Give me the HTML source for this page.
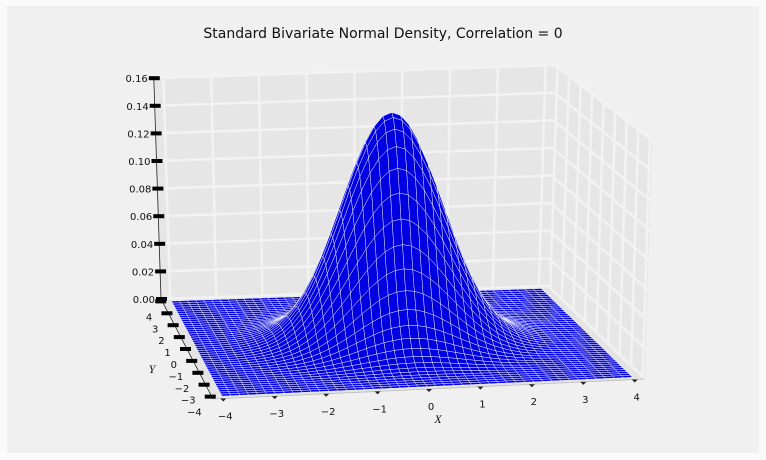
<!DOCTYPE html>
<html><head><meta charset="utf-8"><style>
body{margin:0;background:#fafafa;}
svg{display:block;font-family:"DejaVu Sans","Liberation Sans",sans-serif;}
</style></head><body>
<svg id="chart" width="766" height="460">
<rect x="7" y="6" width="752" height="447" fill="#f0f0f0"/>
<text x="383" y="38" text-anchor="middle" font-size="14" fill="#111">Standard Bivariate Normal Density, Correlation = 0</text>
<g id="walls"></g><g id="surface"></g><g id="axes"></g>
</svg>
<script>
const xTicks=[-4,-3,-2,-1,0,1,2,3,4];
const yTicks=[-4,-3,-2,-1,0,1,2,3,4];
const zTicks=[0,0.02,0.04,0.06,0.08,0.10,0.12,0.14,0.16];
const correlation=[0];
const gridRange=[-4,4];
const gridCount=[46];
const NS='http://www.w3.org/2000/svg';
const L=-4.2,H=4.2;
const FL=[213,399],FR=[645,379],BL=[161,299],BR=[548,286];
function proj(x,y,z){
 const u=(x-L)/(H-L),v=(y-L)/(H-L);
 let px=(1-u)*(1-v)*FL[0]+u*(1-v)*FR[0]+(1-u)*v*BL[0]+u*v*BR[0];
 const py=(1-u)*(1-v)*FL[1]+u*(1-v)*FR[1]+(1-u)*v*BL[1]+u*v*BR[1];
 const k=1490-110*v;
 px+=z*45*(2*u-1);
 return [px,py-z*k];
}
function el(t,a,p){const e=document.createElementNS(NS,t);for(const k in a)e.setAttribute(k,a[k]);p.appendChild(e);return e;}
function pts(a){return a.map(p=>p[0].toFixed(1)+','+p[1].toFixed(1)).join(' ');}
const walls=document.getElementById('walls');
const zTop=zTicks[zTicks.length-1];
let w=el('polygon',{points:pts([proj(L,H,0),proj(H,H,0),proj(H,H,zTop),proj(L,H,zTop)]),fill:'#e6e6e6'},walls);


w=el('polygon',{points:pts([proj(H,H,0),proj(H,L,0),proj(H,L,zTop),proj(H,H,zTop)]),fill:'#e6e6e6'},walls);


w=el('polygon',{points:pts([proj(L,L,0),proj(H,L,0),proj(H,H,0),proj(L,H,0)]),fill:'#e4e4e4'},walls);


const gs={stroke:'#f2f2f2','stroke-width':2.5};
xTicks.forEach(x=>{const a=proj(x,H,0),b=proj(x,H,zTop);const g=el('line',Object.assign({x1:a[0],y1:a[1],x2:b[0],y2:b[1]},gs),walls);

});
yTicks.forEach(y=>{const a=proj(H,y,0),b=proj(H,y,zTop);const g=el('line',Object.assign({x1:a[0],y1:a[1],x2:b[0],y2:b[1]},gs),walls);

});
zTicks.forEach(z=>{const a=proj(L,H,z),b=proj(H,H,z),c=proj(H,L,z);const g=el('polyline',Object.assign({points:pts([a,b,c]),fill:'none'},gs),walls);

});
const rho=correlation[0];
function dens(x,y){return Math.exp(-(x*x-2*rho*x*y+y*y)/(2*(1-rho*rho)))/(2*Math.PI*Math.sqrt(1-rho*rho));}
const surf=document.getElementById('surface');
const N=gridCount[0],a0=gridRange[0],a1=gridRange[1],st=(a1-a0)/N;
for(let j=N-1;j>=0;j--){for(let i=0;i<N;i++){
 const x0=a0+i*st,x1=x0+st,y0=a0+j*st,y1=y0+st;
 const q=[proj(x0,y0,dens(x0,y0)),proj(x1,y0,dens(x1,y0)),proj(x1,y1,dens(x1,y1)),proj(x0,y1,dens(x0,y1))];
 const p=el('polygon',{points:pts(q),fill:'#0000e0',stroke:'#ffffff','stroke-width':0.5,'stroke-opacity':0.85},surf);
 
 
}}
const ax=document.getElementById('axes');
let ln=el('polyline',{points:pts([proj(L,H,zTop),proj(L,H,0),proj(L,L,0)]),fill:'none',stroke:'#222','stroke-width':0.8},ax);


ln=el('line',{x1:proj(L,L,0)[0],y1:proj(L,L,0)[1],x2:proj(H,L,0)[0],y2:proj(H,L,0)[1],stroke:'#bbb','stroke-width':0.8},ax);


zTicks.forEach(z=>{const p=proj(L,H,z);
 const t=el('rect',{x:p[0]-5,y:p[1]-2,width:11,height:4,fill:'#000'},ax);
 
 
 const s=el('text',{x:p[0]-6,y:p[1]+4,'text-anchor':'end','font-size':10,fill:'#111'},ax);s.textContent=z.toFixed(2);
 
 });
yTicks.forEach(y=>{const p=proj(L,y,0);
 const t=el('rect',{x:p[0]-7,y:p[1]-2,width:11,height:4,fill:'#000'},ax);
 
 
 const s=el('text',{x:p[0]-10,y:p[1]+19,'text-anchor':'end','font-size':10,fill:'#111'},ax);s.textContent=String(y).replace('-','\u2212');
 
 });
xTicks.forEach(x=>{const p=proj(x,L,0);
 const t=el('path',{d:`M${p[0]-3},${p[1]} L${p[0]+3},${p[1]} L${p[0]},${p[1]+3}Z`,fill:'#222'},ax);
 
 
 const s=el('text',{x:p[0]+2,y:p[1]+21,'text-anchor':'middle','font-size':10,fill:'#111'},ax);s.textContent=String(x).replace('-','\u2212');
 
 });
let lb=el('text',{x:438,y:423,'text-anchor':'middle','font-size':12,'font-style':'italic','font-family':'Liberation Serif,serif',fill:'#111'},ax);lb.textContent='X';


lb=el('text',{x:152,y:373,'text-anchor':'middle','font-size':12,'font-style':'italic','font-family':'Liberation Serif,serif',fill:'#111'},ax);lb.textContent='Y';


</script>
</body></html>
